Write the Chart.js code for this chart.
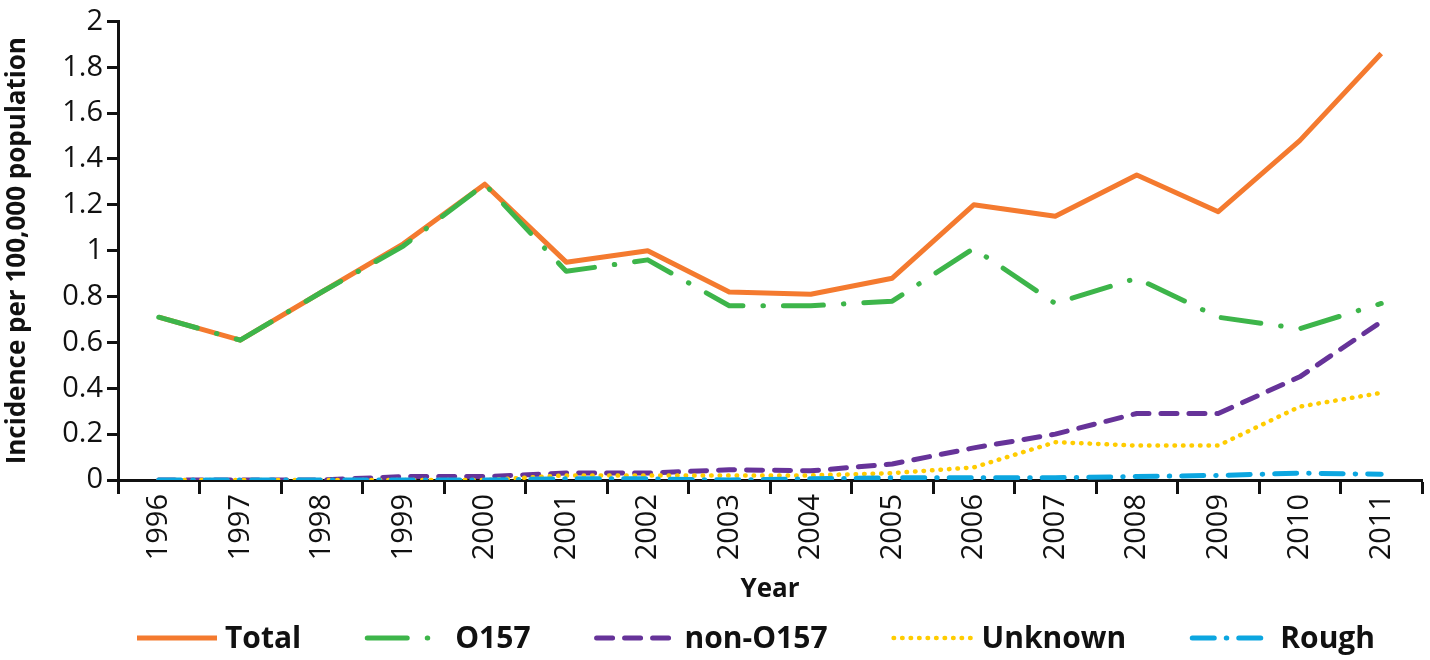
<!DOCTYPE html>
<html>
<head>
<meta charset="utf-8">
<title>STEC incidence</title>
<script src="https://cdn.jsdelivr.net/npm/chart.js@4.4.0/dist/chart.umd.min.js"></script>
<style>
  html, body { margin: 0; padding: 0; background: #fff; }
  #wrap { width: 1430px; height: 660px; }
</style>
</head>
<body>
<div id="wrap"><canvas id="chart" width="1430" height="660"></canvas></div>
<script>
// data
const years = ['1996', '1997', '1998', '1999', '2000', '2001', '2002', '2003',
  '2004', '2005', '2006', '2007', '2008', '2009', '2010', '2011'];
const total    = [0.71, 0.61, 0.82, 1.03, 1.29, 0.95, 1.00, 0.82, 0.81, 0.88, 1.20, 1.15, 1.33, 1.17, 1.48, 1.86];
const o157     = [0.71, 0.61, 0.82, 1.02, 1.29, 0.91, 0.96, 0.76, 0.76, 0.78, 1.01, 0.77, 0.88, 0.71, 0.66, 0.77];
const nonO157  = [0.00, 0.00, 0.00, 0.015, 0.015, 0.03, 0.03, 0.045, 0.04, 0.07, 0.14, 0.20, 0.29, 0.29, 0.45, 0.69];
const unknown  = [0.00, 0.00, 0.00, 0.00, 0.00, 0.02, 0.02, 0.02, 0.02, 0.03, 0.055, 0.165, 0.15, 0.15, 0.32, 0.38];
const rough    = [0.00, 0.00, 0.00, 0.00, 0.00, 0.005, 0.005, 0.00, 0.005, 0.01, 0.01, 0.01, 0.015, 0.02, 0.03, 0.025];
const yTicks   = [0, 0.2, 0.4, 0.6, 0.8, 1, 1.2, 1.4, 1.6, 1.8, 2];

const ink = '#111';
const tickFont = "'Open Sans', 'Liberation Sans', sans-serif";

function line(label, data, color, dash, width, order) {
  return {
    label: label,
    data: data,
    borderColor: color,
    backgroundColor: color,
    borderWidth: width,
    borderDash: dash,
    borderCapStyle: dash.length ? 'round' : 'butt',
    borderJoinStyle: 'round',
    pointRadius: 0,
    pointHoverRadius: 0,
    tension: 0,
    fill: false,
    order: order
  };
}

// legend drawn by hand so the dash patterns show as in the reference
const lineLegend = {
  id: 'lineLegend',
  afterDraw(chart) {
    const ctx = chart.ctx;
    const y = chart.height - 22;
    let x = chart.chartArea.left + 19;
    ctx.save();
    ctx.font = 'bold 30px ' + tickFont;
    ctx.textBaseline = 'middle';
    ctx.fillStyle = ink;
    chart.data.datasets.forEach(ds => {
      ctx.beginPath();
      ctx.strokeStyle = ds.borderColor;
      ctx.lineWidth = ds.borderWidth;
      ctx.lineCap = ds.borderDash.length ? 'round' : 'butt';
      ctx.setLineDash(ds.borderDash);
      ctx.moveTo(x, y);
      ctx.lineTo(x + 80, y);
      ctx.stroke();
      ctx.setLineDash([]);
      x += 88;
      ctx.fillText(ds.label, x, y + 1);
      x += ctx.measureText(ds.label).width + 66;
    });
    ctx.restore();
  }
};

new Chart(document.getElementById('chart'), {
  type: 'line',
  data: {
    labels: years,
    datasets: [
      line('Total', total, '#f47a2f', [], 5, 5),
      line('O157', o157, '#3db54a', [40, 20, 0.5, 20], 5, 4),
      line('non-O157', nonO157, '#663399', [16, 12], 5, 3),
      line('Unknown', unknown, '#ffcc00', [0.5, 8], 4.5, 2),
      line('Rough', rough, '#0ca6e0', [22, 12, 0.5, 12], 5, 1)
    ]
  },
  options: {
    responsive: false,
    animation: false,
    layout: { padding: { top: 4, right: 8, bottom: 55, left: 0 } },
    plugins: {
      legend: { display: false },
      tooltip: { enabled: false }
    },
    scales: {
      x: {
        offset: true,
        grid: {
          offset: true,
          drawOnChartArea: false,
          drawTicks: true,
          tickLength: 14,
          tickWidth: 3,
          tickColor: ink
        },
        border: { display: true, color: ink, width: 3 },
        ticks: {
          color: ink,
          font: { family: tickFont, size: 29 },
          minRotation: 90,
          maxRotation: 90,
          padding: 0,
          autoSkip: false
        },
        title: {
          display: true,
          text: 'Year',
          color: ink,
          font: { family: tickFont, size: 26, weight: 'bold' },
          padding: { top: 0, bottom: 0 }
        },
        afterFit(scale) { scale.height = 125; }
      },
      y: {
        min: 0,
        max: 2,
        afterBuildTicks(scale) { scale.ticks = yTicks.map(v => ({ value: v })); },
        grid: {
          drawOnChartArea: false,
          drawTicks: true,
          tickLength: 11,
          tickWidth: 3,
          tickColor: ink
        },
        border: { display: true, color: ink, width: 3 },
        ticks: {
          color: ink,
          font: { family: tickFont, size: 29 },
          padding: 4,
          callback: v => String(+(+v).toFixed(1))
        },
        title: {
          display: true,
          text: 'Incidence per 100,000 population',
          color: ink,
          font: { family: tickFont, size: 26, weight: 'bold' },
          padding: { top: 2, bottom: 0 }
        },
        afterFit(scale) { scale.width = 118; }
      }
    }
  },
  plugins: [lineLegend]
});
</script>
</body>
</html>
